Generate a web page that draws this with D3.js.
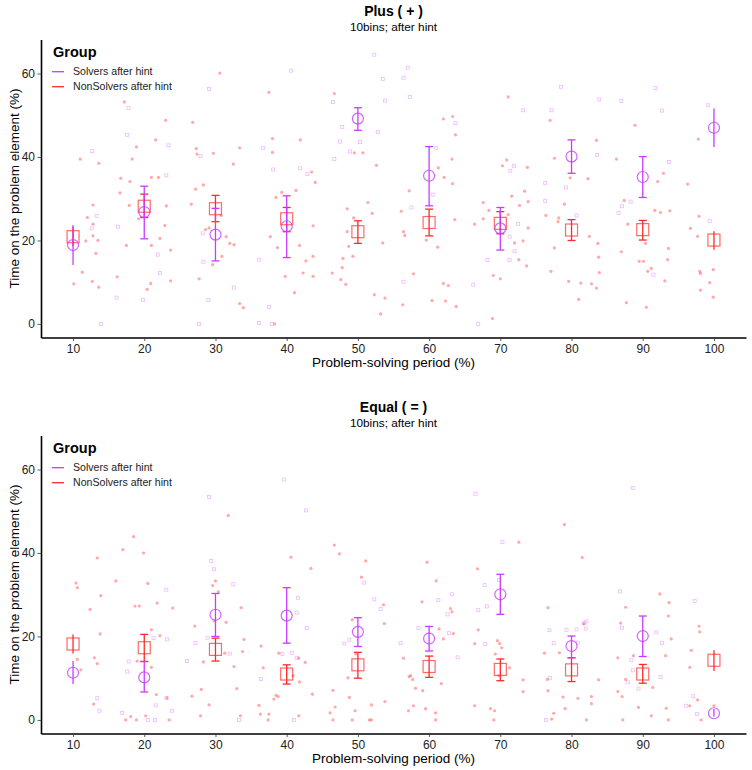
<!DOCTYPE html>
<html>
<head>
<meta charset="utf-8">
<script src="https://cdn.jsdelivr.net/npm/d3@7"></script>
<style>
  body { margin: 0; background: #fff; }
  svg { font-family: "Liberation Sans", Arial, Helvetica, sans-serif; }
</style>
</head>
<body>
<script>
// bins on the x axis and the two groups
const bins = [10, 20, 30, 40, 50, 60, 70, 80, 90, 100]
const groups = ['Solvers after hint', 'NonSolvers after hint']
const yTicks = [0, 20, 40, 60]

// Plus ( + ) : means and error bars per bin
const plusSolverMean = [18.9, 26.8, 21.4, 23.4, 49.2, 35.5, 22.9, 40.1, 35.2, 47.0]
const plusSolverLo = [14.1, 20.4, 15.1, 15.9, 46.4, 28.3, 17.7, 36.1, 30.3, 42.4]
const plusSolverHi = [23.7, 33.0, 27.7, 30.7, 51.8, 42.5, 27.9, 44.1, 40.1, 51.6]
const plusNonMean = [20.9, 28.2, 27.6, 25.2, 22.1, 24.3, 24.1, 22.5, 22.6, 20.1]
const plusNonLo = [18.6, 25.5, 24.5, 22.1, 19.3, 21.1, 21.6, 20.0, 20.1, 17.8]
const plusNonHi = [23.2, 31.1, 30.8, 27.9, 24.7, 27.5, 26.9, 25.0, 24.8, 22.2]

// Equal ( = ) : means and error bars per bin
const equalSolverMean = [11.3, 10.2, 25.2, 25.0, 21.1, 19.5, 30.1, 17.7, 20.1, 1.6]
const equalSolverLo = [8.6, 6.7, 20.0, 18.4, 17.6, 16.5, 25.3, 14.9, 15.2, 0.8]
const equalSolverHi = [14.1, 14.0, 30.3, 31.7, 24.5, 22.4, 34.9, 20.1, 24.9, 2.6]
const equalNonMean = [18.2, 17.3, 16.9, 11.0, 13.2, 12.8, 12.1, 12.0, 11.0, 14.3]
const equalNonLo = [15.9, 14.0, 14.1, 8.6, 10.0, 10.2, 9.4, 9.2, 8.8, 11.7]
const equalNonHi = [20.5, 20.5, 19.6, 13.2, 16.2, 15.3, 14.6, 14.9, 13.3, 16.7]

// jittered raw observations [period, time]
const plusSolverPts = [[29.1,56.3],[17.8,51.7],[17.6,45.3],[23.4,42.8],[36.7,42.2],[12.7,41.4],[27.9,40.2],[38.1,37.0],[23.1,35.6],[13.3,25.9],[12.6,22.9],[13.9,0],[16.3,23.3],[16.1,6.3],[19.8,5.8],[21.9,16.6],[22.2,12.2],[28.2,21.7],[28.3,14.9],[32.6,8.7],[29.0,5.7],[27.7,0],[36.1,15.4],[37.5,4.1],[36.1,0.2],[37.9,0],[41.9,37.3],[42.9,35.9],[48.9,41.3],[46.7,39.5],[47.5,43.7],[50.3,43.6],[47.8,47.2],[52.8,46.0],[46.5,53.2],[53.8,53.5],[56.4,10.1],[52.3,64.5],[40.6,60.7],[57.0,61.4],[53.5,58.7],[56.4,59.0],[57.3,54.4],[78.5,56.8],[83.9,53.8],[87.0,53.4],[91.8,56.5],[99.2,52.4],[73.2,51.2],[92.7,51.1],[63.7,48.1],[77.2,51.2],[61.0,42.2],[83.6,40.5],[60.5,31.0],[57.5,27.9],[71.9,37.9],[71.4,36.7],[72.5,24.0],[71.3,20.9],[72.0,17.4],[71.3,15.3],[68.2,15.3],[66.9,0],[66.2,9.4],[76.3,33.8],[79.2,32.7],[76.3,29.5],[80.7,26.0],[87.1,28.2],[88.3,29.3],[86.6,26.6],[91.5,11.8],[93.7,38.8],[99.4,24.7]]
const plusNonPts = [[30.6,60.1],[37.5,55.5],[17.2,53.2],[23.0,48.8],[26.8,48.3],[21.6,44.1],[38.0,44.4],[18.9,42.4],[27.3,42.0],[33.4,42.2],[27.4,40.7],[29.7,40.9],[38.0,41.1],[11.0,39.5],[18.3,39.5],[13.6,38.5],[16.7,34.9],[18.0,34.1],[21.0,35.1],[22.0,35.1],[16.6,31.4],[17.9,28.4],[23.1,28.3],[12.8,28.5],[12.0,25.5],[12.8,23.9],[12.8,21.1],[11.8,19.9],[13.5,20.0],[13.2,16.9],[11.3,12.4],[10.1,9.6],[12.7,10.2],[13.6,8.8],[17.5,18.8],[16.2,11.3],[20.4,8.3],[20.9,9.7],[21.0,18.8],[22.2,20.5],[22.9,23.6],[23.7,17.7],[23.7,10.3],[19.2,25.2],[26.6,28.7],[27.2,32.3],[28.3,33.3],[32.5,38.3],[28.6,22.6],[29.1,23.0],[30.8,26.0],[31.5,20.9],[32.0,19.3],[32.6,19.0],[30.9,16.2],[29.6,14.2],[27.7,10.8],[33.4,4.9],[33.9,3.9],[37.7,20.9],[38.7,18.3],[38.5,30.3],[39.3,31.5],[41.3,32.0],[38.3,0],[39.8,11.4],[41.1,7.5],[41.8,18.8],[43.5,36.4],[44.0,33.9],[41.9,44.1],[42.3,12.2],[42.7,15.1],[43.7,16.2],[43.7,11.4],[43.7,23.5],[46.4,12.2],[47.6,10.6],[48.3,9.5],[47.8,13.5],[47.9,15.7],[49.3,16.2],[48.7,18.6],[48.5,22.1],[48.5,27.6],[49.4,25.4],[51.4,29.1],[52.0,26.5],[53.5,19.4],[52.3,7.0],[53.8,6.2],[53.2,2.4],[52.6,38.0],[49.5,41.0],[50.7,41.0],[56.1,27.0],[56.4,22.1],[56.6,21.2],[56.3,4.6],[57.2,31.9],[46.7,55.2],[71.1,54.4],[62.0,49.1],[63.3,49.7],[63.7,45.3],[77.0,48.8],[88.9,47.6],[83.5,44.0],[97.8,44.3],[63.2,39.5],[61.3,37.4],[62.1,35.1],[63.3,33.6],[63.6,25.0],[59.6,20.1],[61.2,18.4],[57.8,12.0],[62.0,9.7],[62.7,9.2],[60.4,5.6],[62.3,5.5],[63.8,4.2],[70.9,39.3],[70.3,37.9],[73.8,37.5],[67.6,29.1],[68.4,27.2],[67.6,25.2],[66.4,23.9],[71.6,30.6],[73.4,31.8],[73.9,29.3],[72.7,28.4],[71.1,26.2],[73.9,23.0],[72.0,19.4],[73.2,19.9],[72.6,15.4],[73.7,13.9],[69.0,11.6],[70.0,10.8],[68.9,1.3],[77.6,39.7],[79.0,28.7],[76.4,26.0],[78.2,25.4],[78.1,24.5],[79.8,35.0],[82.3,34.8],[82.5,21.0],[77.6,18.2],[83.7,19.3],[83.8,16.0],[83.9,12.3],[77.1,12.6],[79.6,10.2],[81.3,9.8],[82.8,9.6],[83.5,8.6],[81.0,5.9],[86.3,39.5],[87.4,29.6],[87.9,23.9],[87.0,17.3],[87.7,5.1],[90.5,4.0],[89.5,15.0],[90.1,15.0],[90.4,19.3],[90.7,12.6],[91.2,13.3],[91.7,27.2],[92.5,26.7],[93.8,27.1],[92.1,34.1],[92.9,36.1],[93.6,18.1],[93.5,15.4],[93.1,10.3],[96.3,33.5],[97.9,25.8],[96.7,22.9],[97.7,21.0],[98.0,12.6],[98.1,12.1],[99.4,9.9],[99.9,13.0],[98.1,8.1],[99.9,6.4]]
const equalSolverPts = [[39.6,57.6],[29.1,53.4],[42.7,50.2],[29.4,38.1],[29.8,36.1],[50.9,32.9],[23.1,31.2],[32.5,32.5],[41.6,29.3],[41.4,25.7],[42.8,22.0],[52.3,28.9],[53.2,26.6],[21.3,19.6],[23.2,19.3],[27.2,18.4],[28.9,19.7],[32.0,15.9],[26.0,14.1],[39.4,15.8],[40.7,16.1],[41.4,14.9],[48.1,18.3],[48.8,19.2],[56.0,18.4],[17.8,14.0],[17.6,11.6],[36.4,9.8],[13.4,5.2],[13.7,2.2],[16.9,1.7],[20.5,0],[21.5,0],[21.6,3.5],[23.1,5.2],[23.9,2.2],[33.3,0],[41.0,0],[66.5,54.2],[88.6,55.6],[70.3,42.6],[67.8,32.3],[69.8,33.5],[86.8,30.8],[97.3,28.5],[61.3,28.7],[63.2,30.1],[66.9,26.3],[68.1,27.2],[62.6,25.3],[58.5,22.0],[62.8,20.8],[64.0,15.0],[67.9,18.2],[76.4,0],[77.0,10.1],[77.5,18.4],[76.9,21.5],[79.3,21.6],[80.7,21.7],[81.8,23.3],[82.1,23.6],[82.0,21.9],[80.9,18.5],[87.9,9.0],[88.4,14.3],[88.6,11.9],[89.4,7.5],[91.9,21.0],[92.7,18.4],[92.5,10.3],[87.1,22.1],[97.1,5.7],[96.1,3.4],[97.6,1.4]]
const equalNonPts = [[31.8,49.0],[18.5,43.9],[17.0,40.8],[19.9,40.0],[13.4,38.8],[46.7,41.9],[47.4,39.8],[40.6,39.0],[43.4,36.3],[51.1,38.1],[50.5,34.2],[16.0,33.3],[10.4,32.8],[10.6,31.7],[13.9,29.8],[20.5,32.7],[30.0,33.3],[29.6,32.2],[30.4,30.7],[12.4,26.5],[18.7,27.3],[19.3,27.3],[21.8,28.0],[24.0,26.8],[33.6,26.9],[29.8,23.7],[31.5,23.4],[53.6,27.6],[53.7,23.1],[49.2,24.0],[27.1,22.5],[21.0,21.6],[22.2,20.2],[13.8,20.6],[34.0,19.3],[33.8,16.4],[31.3,16.0],[28.3,13.9],[36.4,17.7],[38.9,16.0],[41.7,14.8],[42.6,13.8],[49.7,15.8],[56.4,14.8],[13.0,14.9],[13.4,13.5],[11.1,12.0],[10.6,14.5],[19.0,14.1],[21.0,12.6],[32.6,12.8],[36.7,12.5],[40.9,10.6],[41.8,9.1],[38.5,5.9],[38.8,5.6],[38.2,5.0],[48.6,10.1],[57.2,10.4],[28.0,7.3],[33.0,7.5],[26.7,5.7],[21.7,6.1],[23.2,5.3],[12.9,3.8],[18.1,0.8],[17.4,0],[18.9,0],[20.2,1.0],[23.5,0],[27.9,1.0],[29.1,3.6],[33.5,1.0],[36.1,3.5],[36.3,1.4],[37.5,1.4],[37.4,0],[41.7,1.0],[43.6,6.2],[46.5,7.1],[46.8,3.1],[46.1,1.7],[46.5,0],[48.8,5.4],[49.6,2.2],[49.2,0],[51.6,0],[51.9,0],[51.9,3.6],[53.8,4.4],[57.1,2.2],[79.0,46.8],[72.6,42.6],[81.5,38.9],[59.7,37.8],[66.8,36.2],[61.0,33.3],[92.4,30.2],[93.7,28.1],[76.7,26.9],[59.0,28.3],[63.0,26.7],[63.2,25.9],[87.6,27.0],[93.6,24.9],[61.4,21.8],[63.4,20.7],[62.0,19.4],[66.9,21.6],[57.4,10.6],[57.7,9.7],[58.1,7.6],[59.1,7.0],[57.8,3.4],[59.5,2.7],[60.9,1.7],[60.9,0],[61.7,8.7],[66.4,18.3],[69.3,15.8],[69.6,19.0],[69.9,18.3],[70.2,17.3],[71.3,12.5],[69.8,10.6],[73.2,9.6],[73.2,6.8],[66.4,3.4],[68.6,2.7],[69.2,2.2],[69.1,0],[77.2,0.2],[77.5,1.6],[76.7,7.0],[76.6,9.7],[76.2,16.0],[78.3,16.1],[81.7,23.0],[78.8,5.5],[79.1,2.7],[80.9,5.2],[82.8,5.6],[82.8,3.9],[82.1,0],[83.8,9.6],[86.5,6.8],[87.1,5.6],[87.2,0],[89.4,3.0],[91.2,1.0],[93.3,2.8],[93.6,0],[86.5,14.9],[87.6,9.7],[88.7,15.4],[91.4,7.8],[93.2,15.4],[94.0,19.4],[86.9,23.2],[98.0,21.1],[97.9,22.5],[96.8,16.7],[96.6,12.6],[97.7,4.8],[96.6,3.4],[98.2,0],[100.0,3.4]]

const purple = '#c83cff'
const red = '#ff2a2a'

const width = 752
const height = 770
const panelShift = 396
const plotLeft = 41
const plotRight = 746
const plotTop = 39.5
const plotBottom = 337.5

const svg = d3.select('body')
    .append('svg')
    .attr('width', width)
    .attr('height', height)

const x = d3.scaleLinear()
    .domain([5.5, 104.5])
    .range([plotLeft, plotRight])

const y = d3.scaleLinear()
    .domain([-3.25, 68.15])
    .range([plotBottom, plotTop])

function panel(offset, title, solverPts, nonPts, sMean, sLo, sHi, nMean, nLo, nHi) {
    const g = svg.append('g').attr('transform', `translate(0, ${offset})`)

    g.append('text')
        .attr('x', (plotLeft + plotRight) / 2)
        .attr('y', 15.5)
        .attr('text-anchor', 'middle')
        .style('font-size', '14px')
        .style('font-weight', 'bold')
        .text(title)

    g.append('text')
        .attr('x', (plotLeft + plotRight) / 2)
        .attr('y', 31)
        .attr('text-anchor', 'middle')
        .style('font-size', '11.8px')
        .text('10bins; after hint')

    // raw points
    g.append('g')
        .selectAll('circle')
        .data(nonPts)
        .enter()
        .append('circle')
        .attr('cx', (d) => x(d[0]))
        .attr('cy', (d) => y(d[1]))
        .attr('r', 1.6)
        .attr('fill', '#ff4040')
        .attr('opacity', 0.45)

    g.append('g')
        .selectAll('rect')
        .data(solverPts)
        .enter()
        .append('rect')
        .attr('x', (d) => x(d[0]) - 1.5)
        .attr('y', (d) => y(d[1]) - 1.5)
        .attr('width', 3)
        .attr('height', 3)
        .attr('fill', 'none')
        .attr('stroke', purple)
        .attr('stroke-width', 0.8)
        .attr('opacity', 0.35)

    // error bars; the two end bins have no caps
    const cap = (i) => (i === 0 || i === bins.length - 1) ? 0 : 4
    const errorBars = (lo, hi, color) => {
        const eb = g.append('g').attr('stroke', color).attr('stroke-width', 1.3)
        bins.forEach((b, i) => {
            eb.append('line')
                .attr('x1', x(b)).attr('x2', x(b))
                .attr('y1', y(lo[i])).attr('y2', y(hi[i]))
            if (cap(i) > 0) {
                [lo[i], hi[i]].forEach((v) => {
                    eb.append('line')
                        .attr('x1', x(b) - cap(i)).attr('x2', x(b) + cap(i))
                        .attr('y1', y(v)).attr('y2', y(v))
                })
            }
        })
    }

    errorBars(nLo, nHi, red)
    errorBars(sLo, sHi, purple)

    g.append('g')
        .selectAll('rect')
        .data(bins)
        .enter()
        .append('rect')
        .attr('x', (d) => x(d) - 6)
        .attr('y', (d, i) => y(nMean[i]) - 6)
        .attr('width', 12)
        .attr('height', 12)
        .attr('fill', 'none')
        .attr('stroke', red)
        .attr('stroke-opacity', 0.7)
        .attr('stroke-width', 1.2)

    g.append('g')
        .selectAll('circle')
        .data(bins)
        .enter()
        .append('circle')
        .attr('cx', (d) => x(d))
        .attr('cy', (d, i) => y(sMean[i]))
        .attr('r', 5.5)
        .attr('fill', 'none')
        .attr('stroke', purple)
        .attr('stroke-opacity', 0.8)
        .attr('stroke-width', 1.2)

    // axes
    const xAxis = g.append('g')
        .attr('transform', `translate(0, ${plotBottom})`)
        .call(d3.axisBottom(x).tickValues(bins).tickSize(3.5).tickPadding(3.5).tickSizeOuter(0))
    const yAxis = g.append('g')
        .attr('transform', `translate(${plotLeft}, 0)`)
        .call(d3.axisLeft(y).tickValues(yTicks).tickSize(3.5).tickPadding(2.5).tickSizeOuter(0))

    ;[xAxis, yAxis].forEach((a) => {
        a.select('.domain').attr('stroke', '#000').attr('stroke-width', 1.6)
        a.selectAll('.tick line').attr('stroke', '#333').attr('stroke-width', 0.8)
        a.selectAll('.tick text')
            .attr('fill', '#222')
            .style('font-size', '12px')
            .style('font-family', '"Liberation Sans", Arial, sans-serif')
    })

    g.append('text')
        .attr('x', (plotLeft + plotRight) / 2)
        .attr('y', 367)
        .attr('text-anchor', 'middle')
        .style('font-size', '13.5px')
        .text('Problem-solving period (%)')

    g.append('text')
        .attr('transform', `translate(19, ${(plotTop + plotBottom) / 2}) rotate(-90)`)
        .attr('text-anchor', 'middle')
        .style('font-size', '13.5px')
        .text('Time on the problem element (%)')

    // legend
    const legend = g.append('g').attr('id', 'legend')
    legend.append('text')
        .attr('x', 53)
        .attr('y', 57)
        .style('font-size', '14.5px')
        .style('font-weight', 'bold')
        .text('Group')

    const rows = legend.selectAll('g.row')
        .data(groups)
        .enter()
        .append('g')
        .attr('class', 'row')
        .attr('transform', (d, i) => `translate(0, ${71.7 + i * 15})`)
    rows.append('line')
        .attr('x1', 52).attr('x2', 64)
        .attr('stroke', (d, i) => i === 0 ? purple : red)
        .attr('stroke-width', 1.3)
    rows.append('text')
        .attr('x', 73)
        .attr('dy', '0.35em')
        .style('font-size', '10.6px')
        .attr('fill', '#222')
        .text((d) => d)
}

panel(0, 'Plus ( + )', plusSolverPts, plusNonPts,
    plusSolverMean, plusSolverLo, plusSolverHi, plusNonMean, plusNonLo, plusNonHi)
panel(panelShift, 'Equal ( = )', equalSolverPts, equalNonPts,
    equalSolverMean, equalSolverLo, equalSolverHi, equalNonMean, equalNonLo, equalNonHi)
</script>
</body>
</html>
